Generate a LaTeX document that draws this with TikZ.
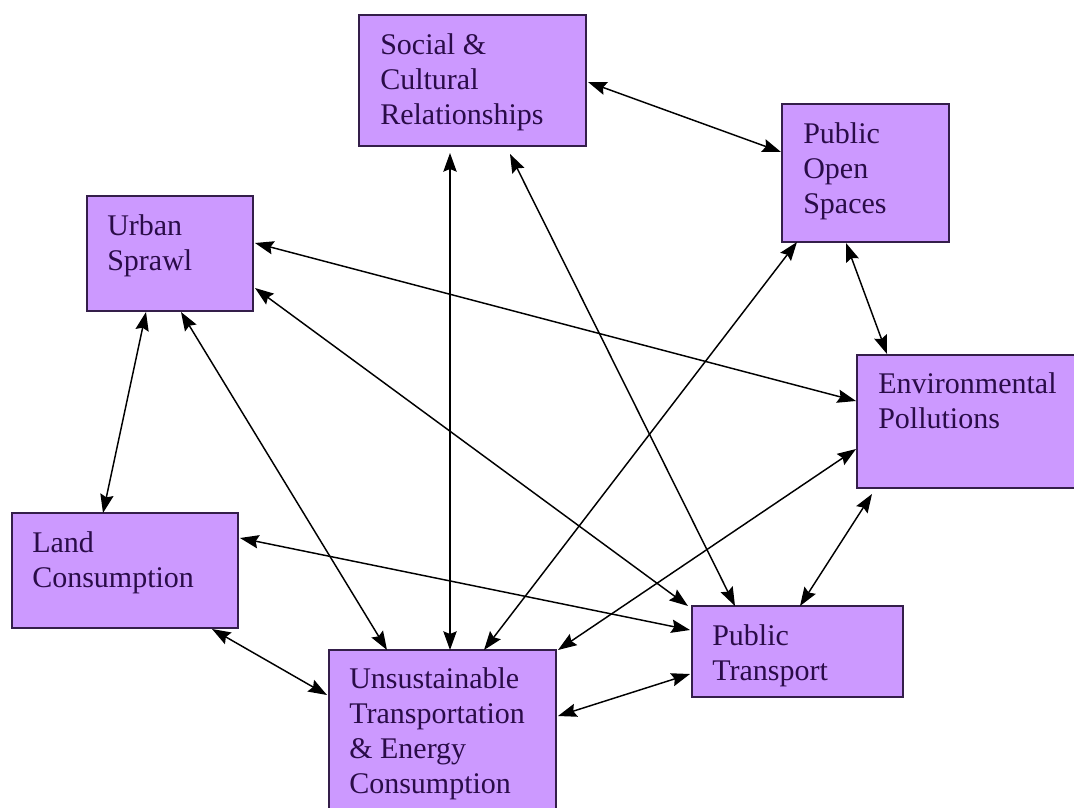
\documentclass[tikz,border=0pt]{standalone}
\usepackage{fontspec}
\setmainfont{Liberation Serif}
\usetikzlibrary{arrows.meta,fit}

\definecolor{boxfill}{RGB}{204,153,255}
\definecolor{boxline}{RGB}{52,30,74}
\definecolor{boxtext}{RGB}{42,12,72}

\begin{document}
\begin{tikzpicture}[x=0.75pt,y=-0.75pt,
  box/.style={draw=boxline,fill=boxfill,line width=0.9pt,inner sep=0pt,outer sep=0pt},
  txt/.style={anchor=north west,inner sep=0pt,align=left,text=boxtext,
    font=\fontsize{22.5pt}{26.25pt}\selectfont},
  link/.style={draw=black,line width=1.1pt,
    {Stealth[length=14pt,width=10pt,inset=2pt]}-{Stealth[length=14pt,width=10pt,inset=2pt]}}]

\useasboundingbox (0,0) rectangle (1074,807);
\clip (0,0) rectangle (1074,807);
\fill[white] (0,0) rectangle (1074,807);

% boxes
\node[box,fit={(359,15) (586,146)}] (soc) {};
\node[box,fit={(782,104) (949,242)}] (pos) {};
\node[box,fit={(87,196) (253,311)}] (urb) {};
\node[box,fit={(857,355) (1080,488)}] (env) {};
\node[box,fit={(12,513) (238,628)}] (lnd) {};
\node[box,fit={(692,606) (903,697)}] (pt) {};
\node[box,fit={(329,650) (556,815)}] (uns) {};

% labels
\node[txt] (soc-t) at ([shift={(21,18)}]soc.north west) {Social \&\\Cultural\\Relationships};
\node[txt] (pos-t) at ([shift={(21,18)}]pos.north west) {Public\\Open\\Spaces};
\node[txt] (urb-t) at ([shift={(20,18)}]urb.north west) {Urban\\Sprawl};
\node[txt] (env-t) at ([shift={(21,17)}]env.north west) {Environmental\\Pollutions};
\node[txt] (lnd-t) at ([shift={(20,18)}]lnd.north west) {Land\\Consumption};
\node[txt] (pt-t) at ([shift={(20,18)}]pt.north west) {Public\\Transport};
\node[txt] (uns-t) at ([shift={(20,17)}]uns.north west) {Unsustainable\\Transportation\\\& Energy\\Consumption};

% two-way links
\draw[link] ([shift={(2,67)}]soc.north east) -- ([shift={(-1,48)}]pos.north west);
\draw[link] ([shift={(91,7)}]soc.south west) -- ([shift={(121,0)}]uns.north west);
\draw[link] ([shift={(151,8)}]soc.south west) -- ([shift={(43,0)}]pt.north west);
\draw[link] ([shift={(15,0)}]pos.south west) -- ([shift={(155,0)}]uns.north west);
\draw[link] ([shift={(64,1)}]pos.south west) -- ([shift={(30,-1)}]env.north west);
\draw[link] ([shift={(2,47)}]urb.north east) -- ([shift={(-1,46)}]env.north west);
\draw[link] ([shift={(2,92)}]urb.north east) -- ([shift={(-4,0)}]pt.north west);
\draw[link] ([shift={(94,1)}]urb.south west) -- ([shift={(58,0)}]uns.north west);
\draw[link] ([shift={(59,1)}]urb.south west) -- ([shift={(91,0)}]lnd.north west);
\draw[link] ([shift={(2,25)}]lnd.north east) -- ([shift={(-2,24)}]pt.north west);
\draw[link] ([shift={(200,1)}]lnd.south west) -- ([shift={(-2,45)}]uns.north west);
\draw[link] ([shift={(-1,94)}]env.north west) -- ([shift={(229,0)}]uns.north west);
\draw[link] ([shift={(15,6)}]env.south west) -- ([shift={(108,0)}]pt.north west);
\draw[link] ([shift={(-2,68)}]pt.north west) -- ([shift={(229,66)}]uns.north west);

\end{tikzpicture}
\end{document}
